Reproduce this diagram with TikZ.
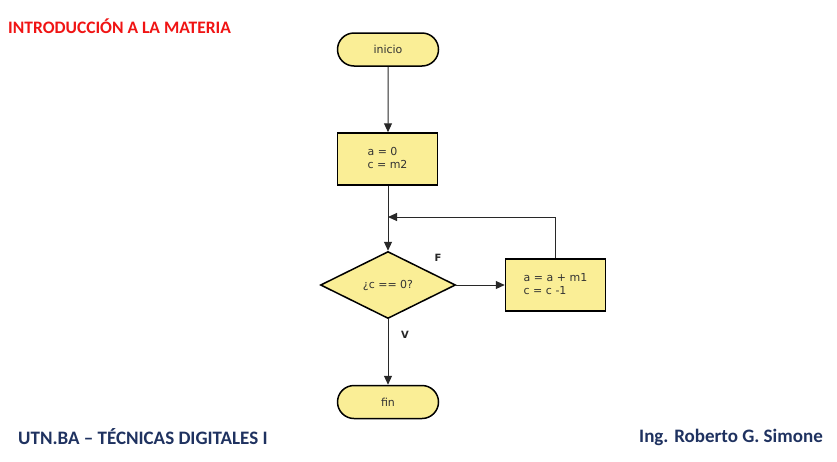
\documentclass[tikz,border=0pt]{standalone}
\usepackage{fontspec}
\setmainfont{Carlito}
\newfontfamily\flowfont{DejaVu Sans}
\usetikzlibrary{shapes.geometric,shapes.misc,arrows.meta}
\definecolor{boxfill}{RGB}{250,238,150}
\definecolor{titlered}{RGB}{240,20,20}
\definecolor{navy}{RGB}{31,50,96}
\definecolor{linegray}{RGB}{40,40,40}
\tikzset{
  base/.style={draw=black, line width=1.5pt, fill=boxfill, font=\flowfont\fontsize{11}{13}\selectfont, text=black!80, inner sep=0pt},
  term/.style={base, rounded rectangle, minimum width=101pt, minimum height=33pt},
  proc/.style={base, rectangle, minimum width=100pt, minimum height=52pt, align=left},
  decis/.style={base, diamond, aspect=2, minimum width=135pt, minimum height=67pt},
  conn/.style={draw=linegray, line width=1pt, -{Triangle[length=9pt,width=8pt]}},
  lbl/.style={font=\flowfont\bfseries\fontsize{10}{11}\selectfont, text=black!85},
  hdr/.style={font=\bfseries\fontsize{17.5}{20}\selectfont, inner sep=0pt},
  ftr/.style={font=\bfseries\fontsize{19}{21}\selectfont, inner sep=0pt}
}
\begin{document}
\begin{tikzpicture}[x=1pt,y=-1pt]
\useasboundingbox[fill=white] (0,0) rectangle (837,461);
\node[hdr, text=titlered, anchor=west] (title) at (8,26) {INTRODUCCIÓN A LA MATERIA};
\node[ftr, text=navy, anchor=west] (foot1) at (18,437) {UTN.BA – TÉCNICAS DIGITALES I};
\node[ftr, text=navy, anchor=east] (foot2) at (823,437) {Ing. Roberto G. Simone};

\node[term] (ini) at (388,49.5) {inicio};
\node[proc] (p1) at (387.5,159) {\begin{tabular}{@{}l@{}}a = 0\\ c = m2\end{tabular}};
\node[decis] (d) at (388,285) {¿c == 0?};
\node[proc] (p2) at (555.5,285) {\begin{tabular}{@{}l@{}}a = a + m1\\ c = c -1\end{tabular}};
\node[term] (fin) at (388,402) {fin};
\coordinate (j) at (388,217);

\draw[conn] (ini) -- (ini|-p1.north);
\draw[conn] (p1.south-|d.north) -- (d.north);
\draw[conn] (d.east) -- (p2.west);
\draw[conn] (p2.north) |- (j);
\draw[conn] (d.south) -- (fin.north);
\node[lbl] (lf) at (438,258) {F};
\node[lbl] (lv) at (405,335) {V};
\end{tikzpicture}
\end{document}
